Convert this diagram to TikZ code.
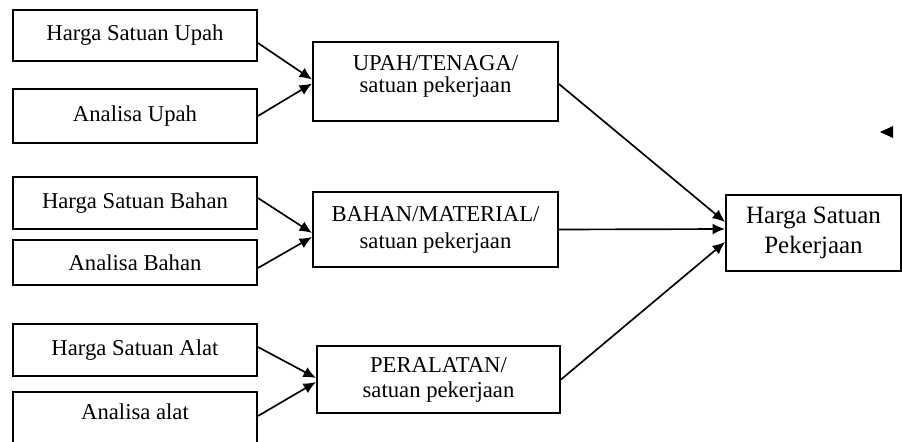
\documentclass[tikz,border=0pt]{standalone}
\usepackage{fontspec}
\setmainfont{Liberation Serif}
\usetikzlibrary{arrows.meta}
\begin{document}
\begin{tikzpicture}[->,>={Latex[length=2.5mm,width=2.2mm]},line width=0.95pt]
	\tikzstyle{inbox}=[rectangle,draw=black,line width=1.1pt,minimum width=4.88cm,inner sep=0pt,font=\fontsize{12.9}{15}\selectfont]
	\tikzstyle{midbox}=[rectangle,draw=black,line width=1.1pt,minimum width=4.88cm,inner sep=0pt,align=center]
	\tikzstyle{outbox}=[rectangle,draw=black,line width=1.1pt,minimum width=3.5cm,minimum height=1.52cm,inner sep=0pt,align=center,font=\fontsize{14.2}{17}\selectfont]
	\path[use as bounding box,clip] (0,0) rectangle (18.04,8.82);
	% inputs
	\node[inbox,minimum height=1.02cm] (hs-upah) at (2.70,8.11) {Harga Satuan Upah};
	\node[inbox,minimum height=1.08cm] (an-upah) at (2.70,6.50) {Analisa Upah};
	\node[inbox,minimum height=1.04cm] (hs-bahan) at (2.70,4.76) {Harga Satuan Bahan};
	\node[inbox,minimum height=0.90cm] (an-bahan) at (2.70,3.57) {Analisa Bahan};
	\node[inbox,minimum height=1.04cm] (hs-alat) at (2.70,1.82) {Harga Satuan Alat};
	\node[inbox,minimum height=1.04cm,text depth=0.24cm] (an-alat) at (2.70,0.46) {Analisa alat};
	% per satuan pekerjaan
	\node[midbox,minimum width=4.90cm,minimum height=1.58cm,text depth=0.3cm,font=\fontsize{12.9}{12.5}\selectfont] (upah) at (8.71,7.19) {UPAH/TENAGA/\\satuan pekerjaan};
	\node[midbox,minimum width=4.90cm,minimum height=1.50cm,font=\fontsize{12.9}{15.4}\selectfont] (bahan) at (8.71,4.23) {BAHAN/MATERIAL/\\satuan pekerjaan};
	\node[midbox,minimum width=4.86cm,minimum height=1.34cm,font=\fontsize{12.9}{14.2}\selectfont] (alat) at (8.77,1.23) {PERALATAN/\\satuan pekerjaan};
	\node[outbox] (total) at (16.27,4.16) {Harga Satuan\\Pekerjaan};
	\draw ([yshift=-0.15cm]hs-upah.east) -- ([yshift=0.04cm]upah.west);
	\draw (an-upah.east) -- ([yshift=-0.04cm]upah.west);
	\draw ([yshift=0.10cm]hs-bahan.east) -- ([yshift=-0.07cm]bahan.west);
	\draw ([yshift=-0.11cm]an-bahan.east) -- ([yshift=-0.15cm]bahan.west);
	\draw ([yshift=0.06cm]hs-alat.east) -- ([yshift=0.03cm]alat.west);
	\draw ([yshift=0.04cm]an-alat.east) -- ([yshift=-0.05cm]alat.west);
	\draw ([yshift=-0.05cm]upah.east) -- ([yshift=0.22cm]total.west);
	\draw (bahan.east) -- ([yshift=0.08cm]total.west);
	\draw (alat.east) -- ([yshift=-0.18cm]total.west);
	\fill[-] (17.60,6.18) -- (17.86,6.30) -- (17.86,6.06) -- cycle;
\end{tikzpicture}
\end{document}
